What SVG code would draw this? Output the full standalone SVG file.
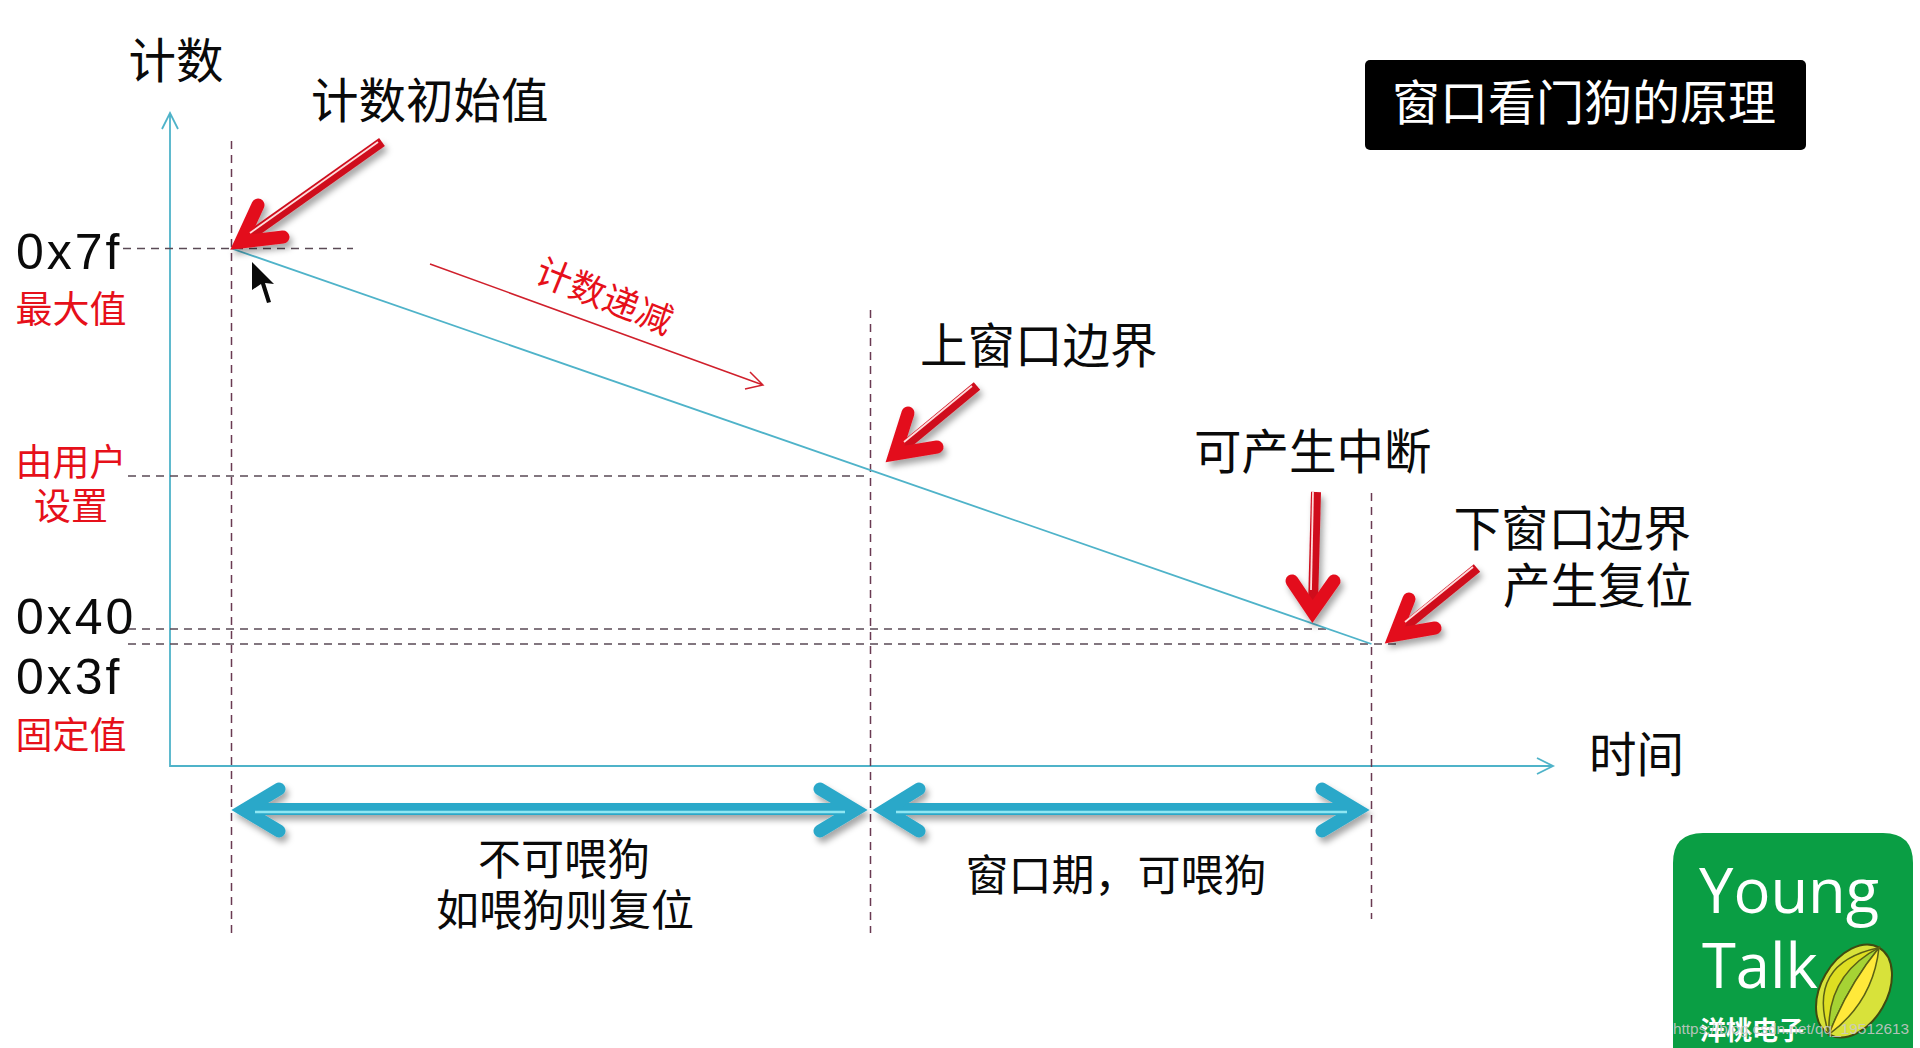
<svg xmlns="http://www.w3.org/2000/svg" width="1920" height="1048" viewBox="0 0 1920 1048">
<style>
text{font-family:"Noto Sans CJK SC","Noto Sans",sans-serif}
.blk{fill:#0a0a0a;font-size:47.500px}
.mid{fill:#0a0a0a;font-size:43px;text-anchor:middle}
.red{fill:#e6101a;font-size:37px;text-anchor:middle}
.num{fill:#0a0a0a;font-size:50px;letter-spacing:3px;font-family:"Liberation Sans",sans-serif}
.axis{stroke:#4fb3c9;stroke-width:1.8;fill:none}
.dash{stroke:#6a3a52;stroke-width:1.5;stroke-dasharray:8 6;fill:none}
.hd{stroke:#5a4a55}
.ra{fill:none;stroke-linecap:round;stroke-linejoin:miter}
.rs{stroke:#cf0f1e;stroke-width:10;stroke-linecap:butt}
.rh{stroke:#e3101f;stroke-width:13}
.rw{stroke:#ffdcdc;stroke-width:1.8;stroke-linecap:butt}
.cs{stroke:#2ba8c9;stroke-width:12;stroke-linecap:butt}
.ch{stroke:#2ba8c9;stroke-width:13}
.cw{stroke:#8fe6f2;stroke-width:2.500;stroke-linecap:butt}
.lg{fill:#fff;font-size:61.500px;font-family:"Open Sans",sans-serif}
.seg{stroke:#5a6015;stroke-width:1.500}
</style>
<defs>
<filter id="sh" x="-30%" y="-30%" width="160%" height="160%"><feDropShadow dx="3" dy="5" stdDeviation="3" flood-color="#000" flood-opacity="0.35"/></filter>
</defs>
<rect width="1920" height="1048" fill="#fff"/>
<g id="connectors">
<path class="axis" d="M170 113V766H1553M162 129L170 113L178 129M1537 758L1553 766L1537 774"/>
<path class="dash" d="M231.500 141V933M870.500 310V933M1371.500 493V919"/>
<path class="dash hd" d="M123 248.500H353M128 476H870M128 629H1328M128 644H1402"/>
<path class="axis" d="M231.500 248.500L1371.500 644"/>
<path d="M430 264L763 385M750 372L763 385L745 389" fill="none" stroke="#d0202c" stroke-width="1.5"/>
<polygon points="252,262 252,290 261,284 267,303 271,302 265,283 274,284" fill="#0a0a0a"/>
<g class="ra" filter="url(#sh)">
<path class="rs" d="M382 142L248 237"/><path class="rh" d="M258 205L241 242L283 237"/><path class="rw" d="M378 142L250 233"/>
<path class="rs" d="M977 386L901 449"/><path class="rh" d="M908 413L895 454L937 447"/><path class="rw" d="M972 386L904 442"/>
<path class="rs" d="M1316 492L1313 605"/><path class="rh" d="M1292 581L1312.500 611.500L1334 581"/><path class="rw" d="M1313 492L1311 590"/>
<path class="rs" d="M1477 568L1401 630"/><path class="rh" d="M1409 599L1395 635L1435 628"/><path class="rw" d="M1473 567L1405 622"/>
<path class="cs" d="M250 809H850"/><path class="ch" d="M279 789L244 810L279 831M820 789L855 810L820 831"/><path class="cw" d="M255 812H845"/>
<path class="cs" d="M890 809H1352"/><path class="ch" d="M919 789L885 810L919 831M1322 789L1357 810L1322 831"/><path class="cw" d="M896 812H1347"/>
</g>
</g>
<g id="title"><rect x="1365" y="60" width="441" height="90" rx="5" fill="#000"/><text x="1584" y="120" font-size="48" fill="#fff" text-anchor="middle">窗口看门狗的原理</text></g>
<g id="axis-labels">
<text class="blk" x="128.500" y="78">计数</text>
<text class="blk" x="1589" y="772">时间</text>
<text class="num" x="16" y="269">0x7f</text>
<text class="num" x="16" y="634">0x40</text>
<text class="num" x="16" y="694">0x3f</text>
<text class="red" x="71" y="323">最大值</text>
<text class="red" x="71" y="476">由用户</text>
<text class="red" x="71" y="520">设置</text>
<text class="red" x="71" y="749">固定值</text>
</g>
<g id="notes">
<text class="blk" x="311" y="118">计数初始值</text>
<text class="blk" x="920" y="363">上窗口边界</text>
<text class="blk" x="1194" y="469">可产生中断</text>
<text class="blk" x="1453.500" y="546">下窗口边界</text>
<text class="blk" x="1503" y="603">产生复位</text>
<text fill="#e6101a" font-size="36" text-anchor="middle" transform="translate(604 297) rotate(22)" dy="12">计数递减</text>
<text class="mid" x="564" y="875">不可喂狗</text>
<text class="mid" x="565" y="926">如喂狗则复位</text>
<text class="mid" x="1116" y="891">窗口期，可喂狗</text>
</g>
<g id="logo">
<path d="M1673 1048V863Q1673 833 1703 833H1883Q1913 833 1913 863V1048Z" fill="#0a9e44"/>
<text class="lg" x="1699" y="913">Young</text>
<text class="lg" x="1702" y="988">Talk</text>
<text x="1700" y="1040" font-size="26" font-weight="700" fill="#fff">洋桃电子</text>
<g transform="translate(1854 991) rotate(-60)">
<ellipse rx="50" ry="33" fill="#d8e23a" stroke="#3f4a10" stroke-width="2"/>
<path class="seg" d="M-50 0Q0 -56 50 0Q0 -12 -50 0Z" fill="#dede22"/>
<path class="seg" d="M-50 0Q0 -32 50 0Q0 -8 -50 0Z" fill="#a6d334"/>
<path class="seg" d="M-50 0Q0 -8 50 0Q0 22 -50 0Z" fill="#ffe93a"/>
</g>
<text x="1673" y="1034" font-size="15.400" fill="#c8c8c8" fill-opacity="0.9" style="font-family:'Liberation Sans',sans-serif">https://blog.csdn.net/qq_19512613</text>
</g>
</svg>
